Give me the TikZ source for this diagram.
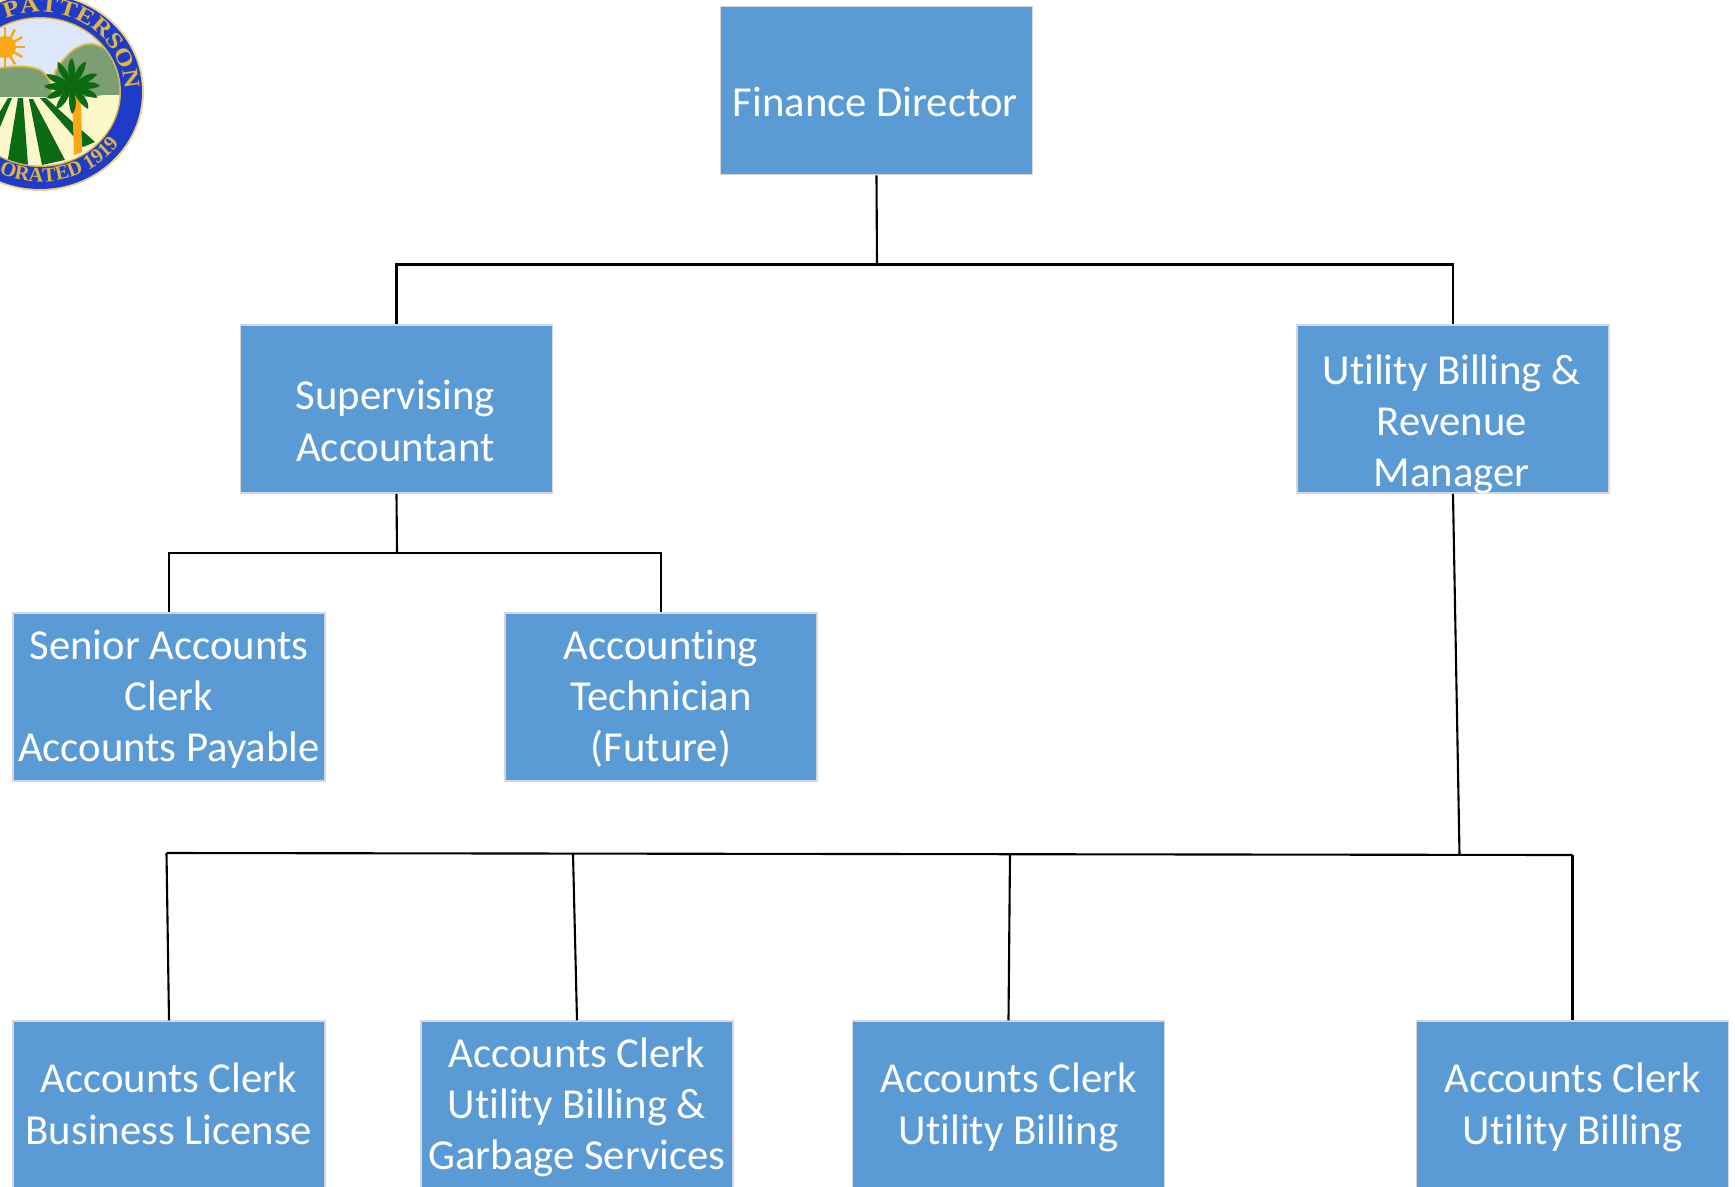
\documentclass[tikz,border=0pt]{standalone}
\usepackage{fontspec}
\usepackage{xcolor}
\usepackage{tikz}
\usetikzlibrary{decorations.text}
\setmainfont{Carlito}[Ligatures=NoCommon]
\newfontfamily\sealfont[FakeStretch=1.18]{Liberation Serif Bold}
\newfontfamily\sealplain{Liberation Serif Bold}
\definecolor{boxblue}{HTML}{5B9BD5}
\definecolor{boxedge}{HTML}{D4D8DC}
\definecolor{sealblue}{HTML}{1E3CC8}
\definecolor{sealgold}{HTML}{E2B441}
\definecolor{sealsky}{HTML}{DCE8FA}
\definecolor{sealhill}{HTML}{7C9E74}
\definecolor{sealcream}{HTML}{FDF8CC}
\definecolor{sealgreen}{HTML}{0B6B13}
\definecolor{sealsun}{HTML}{F9A814}
\tikzset{
	jobbox/.style={draw=boxedge,line width=0.4pt,fill=boxblue,text=white,inner sep=0pt,
		minimum width=3.12cm,minimum height=1.68cm,align=center,
		font=\fontsize{12.15}{14.6}\selectfont},
	link/.style={black,line width=0.6pt}
}
\newcommand{\sealtext}{\sealfont\fontsize{6.4}{7}\selectfont\color{sealgold}}
\newcommand{\sealbase}{\sealplain\fontsize{5.8}{7}\selectfont\color{sealgold}}
\newcommand{\jobtext}[1]{\rule{0pt}{10.6pt}#1\rule[-2.9pt]{0pt}{0pt}}
\newcommand{\lowtext}[1]{\raisebox{-7.6pt}[0pt][0pt]{\begin{tabular}{@{}c@{}}#1\end{tabular}}\kern0.7pt}
\begin{document}
\begin{tikzpicture}[x=0.01cm,y=0.01cm]
	\clip (0,0) rectangle (1735,-1187);
	\fill[white] (0,0) rectangle (1735,-1187);
	\begin{scope}
		\fill[sealgold!60] (40,-92) ellipse (104 and 99);
		\fill[sealblue] (40,-92) ellipse (102 and 97);
		\fill[sealgold] (40,-92) ellipse (81 and 75);
		\clip (40,-92) ellipse (79.5 and 73.5);
		\fill[sealsky] (-45,-10) rectangle (125,-100);
		\fill[sealhill,draw=sealgold,line width=0.5pt] (55,-72) .. controls (65,-55) and (78,-43) .. (92,-44) .. controls (105,-46) and (115,-55) .. (125,-65) -- (125,-105) -- (55,-105) -- cycle;
		\fill[sealhill,draw=sealgold,line width=0.5pt] (-45,-80) .. controls (-10,-68) and (20,-62) .. (40,-70) .. controls (50,-76) and (52,-85) .. (52,-100) -- (-45,-100) -- cycle;
		\fill[sealcream] (-45,-97) -- (85,-97) -- (105,-95) -- (125,-95) -- (125,-170) -- (-45,-170) -- cycle;
		\fill[sealgreen] (18,-98) -- (23,-98) -- (28,-165) -- (7,-165) -- cycle;
		\fill[sealgreen] (29,-99) -- (33,-99) -- (65,-160) -- (42,-165) -- cycle;
		\fill[sealgreen] (40,-98) -- (46,-98) -- (95,-142) -- (83,-147) -- cycle;
		\fill[sealgreen] (8,-98) -- (12,-98) -- (-2,-132) -- (-2,-115) -- cycle;
		\foreach \a in {0,30,...,330}
			\draw[sealsun,line width=0.7pt] ([shift={(\a:9)}]5,-47) -- ([shift={(\a:20)}]5,-47);
		\fill[sealsun] (5,-47) circle (11);
		\fill[sealsun] (72,-94) -- (81,-94) -- (82,-152) -- (74,-155) -- cycle;
		\foreach \a in {-25,0,25,60,90,120,155,180,205,235,270,305}
			\fill[sealgreen] (72,-86) .. controls ([shift={(\a+22:14)}]72,-86) and ([shift={(\a+12:24)}]72,-86) .. ([shift={(\a:28)}]72,-86) .. controls ([shift={(\a-12:20)}]72,-86) and ([shift={(\a-22:10)}]72,-86) .. (72,-86);
	\end{scope}
	\path[decorate,decoration={text along path,text={|\sealtext|PATTERSON},text align=left}]
		([shift={(114:85 and 80)}]40,-92) arc (114:-5:85 and 80);
	\path[decorate,decoration={text along path,text={|\sealbase|ORATED 1919},text align=left}]
		([shift={(245:97 and 90)}]40,-92) arc (245:355:97 and 90);
	\coordinate (busa) at (877,-264.5);
	\coordinate (busb) at (397,-553);
	\coordinate (busc) at (1459.5,-854);
	\node[jobbox] (finance) at (876.5,-90.5) {\lowtext{Finance Director}};
	\node[jobbox] (super) at (396.5,-409) {\lowtext{Supervising\\Accountant}};
	\node[jobbox] (utility) at (1453,-409) {\lowtext{Utility Billing \&\\Revenue\\Manager}};
	\node[jobbox] (senior) at (169,-697) {\jobtext{Senior Accounts\\Clerk\\Accounts Payable}};
	\node[jobbox] (tech) at (661,-697) {\jobtext{Accounting\\Technician\\(Future)}};
	\node[jobbox] (clerka) at (169,-1105) {\jobtext{Accounts Clerk\\Business License}};
	\node[jobbox] (clerkb) at (577,-1105) {\jobtext{Accounts Clerk\\Utility Billing \&\\Garbage Services}};
	\node[jobbox] (clerkc) at (1008.5,-1105) {\jobtext{Accounts Clerk\\Utility Billing}};
	\node[jobbox] (clerkd) at (1572.5,-1105) {\jobtext{Accounts Clerk\\Utility Billing}};
	\coordinate (busl) at (166.5,-853);
	\coordinate (busr) at (1572.5,-855);
	\coordinate (busm) at (573,-853.5);
	\coordinate (busn) at (1010,-854);
	\draw[link] (finance.south) -- (busa);
	\draw[link] (super.north) -- (super.north |- busa) -- (utility.north |- busa) -- (utility.north);
	\draw[link] (super.south) -- (busb);
	\draw[link] (senior.north) -- (senior.north |- busb) -- (tech.north |- busb) -- (tech.north);
	\draw[link] (utility.south) -- (busc);
	\draw[link] (busl) -- (busr);
	\draw[link] (busl) -- (clerka.north);
	\draw[link] (busm) -- (clerkb.north);
	\draw[link] (busn) -- (clerkc.north);
	\draw[link] (busr) -- (clerkd.north);
\end{tikzpicture}
\end{document}
